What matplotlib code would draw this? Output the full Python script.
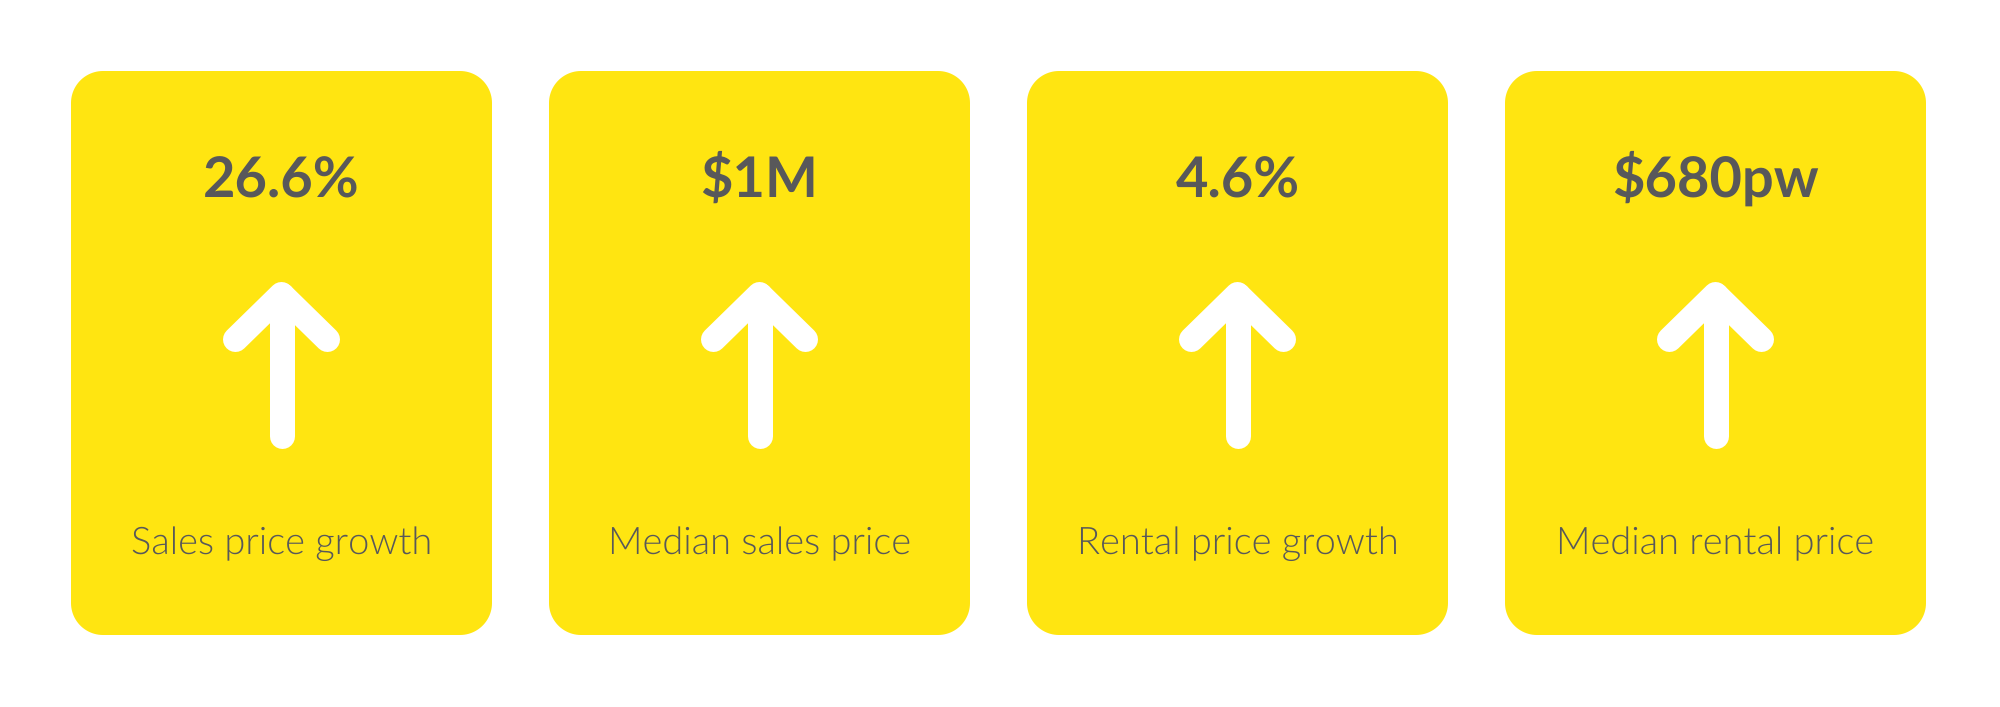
import matplotlib
matplotlib.use("Agg")
import numpy as np
import matplotlib.pyplot as plt
from matplotlib.patches import Polygon
from matplotlib.lines import Line2D

plt.rcParams["text.hinting"] = "no_hinting"
plt.rcParams["text.hinting_factor"] = 1

# Data
values = ["26.6%", "$1M", "4.6%", "$680pw"]
labels = ["Sales price growth", "Median sales price", "Rental price growth", "Median rental price"]

# Style
CARD_COLOR = "#FFE511"
TEXT_COLOR = "#58585A"
W, H = 2000, 707
DPI = 100

fig = plt.figure(figsize=(W / DPI, H / DPI), dpi=DPI, facecolor="white")
ax = fig.add_axes([0, 0, 1, 1])
ax.set_xlim(0, W)
ax.set_ylim(H, 0)
ax.axis("off")

card_left0 = 71
card_step = 478
card_w = 421
card_top = 71
card_h = 564
radius = 32

px_to_pt = 72.0 / DPI


def rounded_rect(x0, y0, w, h, r, n=24):
    pts = []
    corners = [(x0 + w - r, y0 + r, -90, 0),     # top-right (y down)
               (x0 + w - r, y0 + h - r, 0, 90),  # bottom-right
               (x0 + r, y0 + h - r, 90, 180),    # bottom-left
               (x0 + r, y0 + r, 180, 270)]       # top-left
    for ccx, ccy, a0, a1 in corners:
        t = np.radians(np.linspace(a0, a1, n))
        pts.extend(zip(ccx + r * np.cos(t), ccy + r * np.sin(t)))
    return np.array(pts)


for i, (val, lab) in enumerate(zip(values, labels)):
    x0 = card_left0 + i * card_step
    cx = x0 + card_w / 2
    ax.add_patch(Polygon(rounded_rect(x0, card_top, card_w, card_h, radius), closed=True,
                         facecolor=CARD_COLOR, edgecolor="none"))

    ax.text(cx, 197, val, ha="center", va="baseline", fontsize=40,
            fontfamily="Lato", fontweight=700, color=TEXT_COLOR)

    # arrow
    lw = 25 * px_to_pt
    apex_y = 294.5
    ax.add_line(Line2D([cx - 46, cx, cx + 46], [apex_y + 45, apex_y, apex_y + 45],
                       color="white", linewidth=lw, solid_capstyle="round",
                       solid_joinstyle="round"))
    ax.add_line(Line2D([cx, cx], [apex_y, 436], color="white", linewidth=lw,
                       solid_capstyle="round"))

    ax.text(cx, 554, lab, ha="center", va="baseline", fontsize=27.5,
            fontfamily="Lato", fontweight=300, color=TEXT_COLOR)

fig.savefig("out.png", dpi=DPI, facecolor="white")
